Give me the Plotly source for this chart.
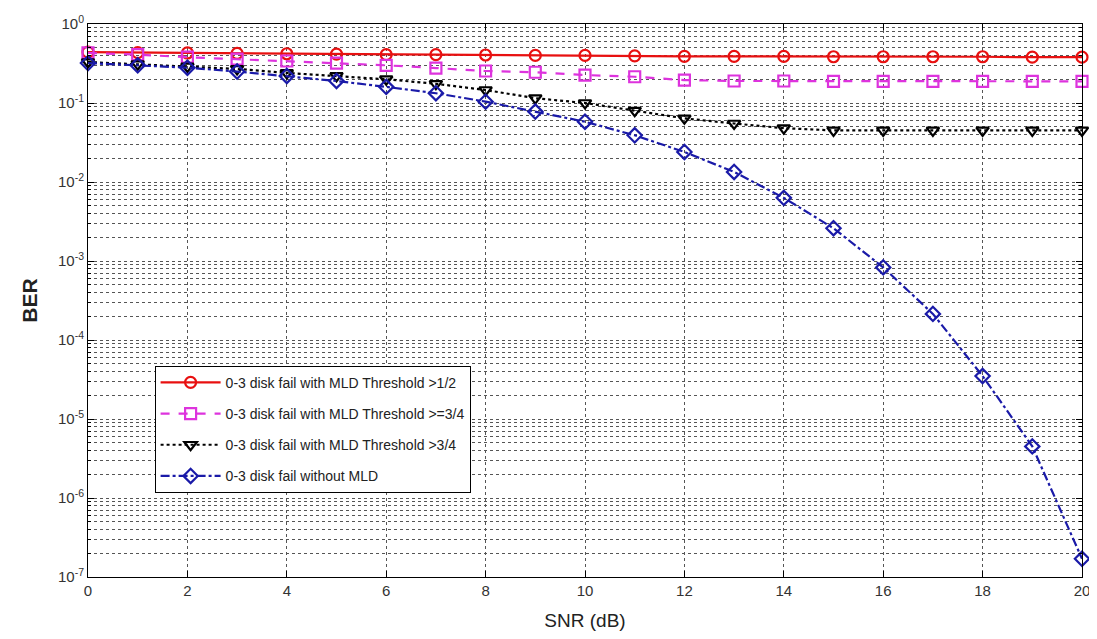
import plotly.graph_objects as go

snr = list(range(0, 21))
ber_mld_half = [0.44, 0.435, 0.43, 0.425, 0.42, 0.415, 0.41, 0.41, 0.405, 0.40, 0.40, 0.395, 0.39, 0.39, 0.39, 0.385, 0.385, 0.385, 0.385, 0.38, 0.38]
ber_mld_ge34 = [0.43, 0.41, 0.38, 0.36, 0.34, 0.32, 0.30, 0.277, 0.254, 0.245, 0.226, 0.215, 0.195, 0.19, 0.19, 0.188, 0.188, 0.188, 0.188, 0.188, 0.188]
ber_mld_gt34 = [0.33, 0.31, 0.29, 0.27, 0.24, 0.22, 0.20, 0.175, 0.146, 0.115, 0.10, 0.08, 0.064, 0.055, 0.048, 0.045, 0.045, 0.045, 0.045, 0.045, 0.045]
ber_no_mld = [0.32, 0.30, 0.28, 0.25, 0.22, 0.19, 0.16, 0.133, 0.104, 0.078, 0.058, 0.039, 0.024, 0.0134, 0.0063, 0.0026, 0.00083, 0.000214, 3.5e-5, 4.5e-6, 1.7e-7]

y_tick_vals = [1e-7, 1e-6, 1e-5, 1e-4, 1e-3, 1e-2, 1e-1, 1]
y_tick_text = ["10<sup>-7</sup>", "10<sup>-6</sup>", "10<sup>-5</sup>", "10<sup>-4</sup>",
               "10<sup>-3</sup>", "10<sup>-2</sup>", "10<sup>-1</sup>", "10<sup>0</sup>"]

names = [
    "0-3 disk fail with MLD Threshold >1/2",
    "0-3 disk fail with MLD Threshold >=3/4",
    "0-3 disk fail with MLD Threshold >3/4",
    "0-3 disk fail without MLD",
]
series = [ber_mld_half, ber_mld_ge34, ber_mld_gt34, ber_no_mld]
colors = ["#e81010", "#dd33dd", "#000000", "#1a1aa8"]
dashes = ["solid", "dash", "dot", "dashdot"]
symbols = ["circle-open", "square-open", "triangle-down-open", "diamond-open"]

fig = go.Figure()
for i, (n, s, c, d, m) in enumerate(zip(names, series, colors, dashes, symbols)):
    fig.add_trace(go.Scatter(
        x=snr, y=s, name=n, mode="lines+markers", legendgroup=f"g{i}",
        line=dict(color=c, dash=d, width=2.2),
        marker=dict(symbol=m, size=11, color=c, line=dict(width=2.2, color=c)),
        cliponaxis=False,
    ))

grid_color = "#555555"
tick_font = dict(family="Liberation Sans, Arial", size=15, color="#333333")
fig.update_xaxes(
    range=[0, 20], dtick=2, tick0=0,
    showline=True, linecolor="black", linewidth=1, mirror="ticks",
    ticks="inside", ticklen=6, tickcolor="black",
    showgrid=True, gridcolor=grid_color, griddash="dot", gridwidth=1,
    zeroline=False, automargin=False, ticklabeloverflow="allow",
    tickfont=tick_font,
    title=dict(text="SNR (dB)", font=dict(family="Liberation Sans, Arial", size=19, color="#222222"), standoff=16),
)
fig.update_yaxes(
    type="log", range=[-7, 0], tickvals=y_tick_vals, ticktext=y_tick_text,
    showline=True, linecolor="black", linewidth=1, mirror="ticks",
    ticks="inside", ticklen=6, tickcolor="black",
    showgrid=True, gridcolor=grid_color, griddash="dot", gridwidth=1,
    minor=dict(dtick="D1", showgrid=True, gridcolor=grid_color, griddash="dot", gridwidth=1,
               ticks="inside", ticklen=3, tickcolor="black"),
    automargin=False, ticklabeloverflow="allow",
    tickfont=tick_font,
    title=dict(text="<b>BER</b>", font=dict(family="Liberation Sans, Arial", size=21, color="#222222"), standoff=14),
)
fig.update_layout(
    width=1081, height=623,
    margin=dict(l=80, r=7, t=16, b=54),
    plot_bgcolor="white", paper_bgcolor="white",
    legend=dict(
        x=0.067, y=0.382, xanchor="left", yanchor="top",
        bgcolor="white", bordercolor="black", borderwidth=1,
        font=dict(family="Liberation Sans, Arial", size=14, color="#222222"),
        tracegroupgap=10, itemwidth=60,
    ),
)
fig.write_html("out.html")
